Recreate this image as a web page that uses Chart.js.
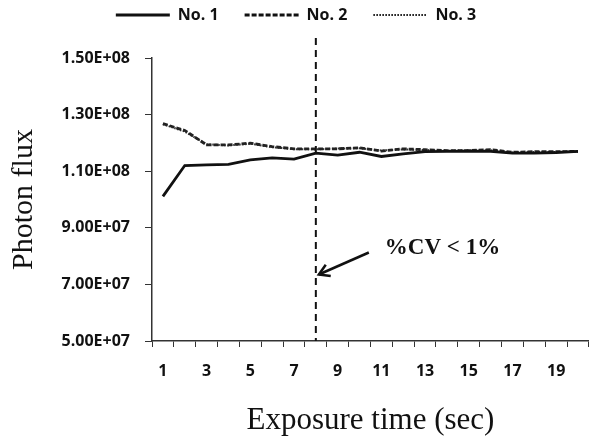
<!DOCTYPE html>
<html lang="en">

<head>
    <script src="https://cdn.jsdelivr.net/npm/chart.js@4.4.1/dist/chart.umd.min.js"></script>
    <style>
        body { margin: 0; background: #fff; }
        #wrap { width: 593px; height: 443px; }
    </style>
</head>

<body>
    <div id="wrap"><canvas id="fluxChart"></canvas></div>

    <script>
        // exposure time categories
        const times = ["1", "2", "3", "4", "5", "6", "7", "8", "9", "10",
            "11", "12", "13", "14", "15", "16", "17", "18", "19", "20"];

        const no1 = [1.011e8, 1.120e8, 1.122e8, 1.124e8, 1.140e8, 1.147e8, 1.143e8, 1.164e8, 1.157e8, 1.167e8,
            1.152e8, 1.161e8, 1.169e8, 1.170e8, 1.171e8, 1.170e8, 1.164e8, 1.164e8, 1.166e8, 1.170e8];
        const no2 = [1.268e8, 1.244e8, 1.193e8, 1.193e8, 1.199e8, 1.187e8, 1.179e8, 1.179e8, 1.179e8, 1.183e8,
            1.171e8, 1.179e8, 1.176e8, 1.173e8, 1.173e8, 1.176e8, 1.167e8, 1.169e8, 1.169e8, 1.170e8];
        const no3 = [1.266e8, 1.240e8, 1.195e8, 1.191e8, 1.197e8, 1.185e8, 1.178e8, 1.177e8, 1.180e8, 1.181e8,
            1.173e8, 1.177e8, 1.175e8, 1.172e8, 1.174e8, 1.174e8, 1.166e8, 1.168e8, 1.168e8, 1.169e8];

        const yTickLabels = ["5.00E+07", "7.00E+07", "9.00E+07", "1.10E+08", "1.30E+08", "1.50E+08"];
        const xTickLabels = ["1", "", "3", "", "5", "", "7", "", "9", "", "11", "", "13", "", "15", "", "17", "", "19", ""];

        const markedIndex = 7; // exposure 8 sec
        const noteText = "%CV < 1%";

        const boldSans = { family: "'Open Sans', Lato, sans-serif", size: 16, weight: "bold" };
        const serif = "'Liberation Serif', 'DejaVu Serif', serif";

        // dashed marker line, arrow and note
        const markerPlugin = {
            id: "marker",
            afterDatasetsDraw(chart) {
                const { ctx, scales: { x, y } } = chart;
                const px = x.getPixelForValue(markedIndex);
                ctx.save();
                ctx.strokeStyle = "#111";
                ctx.lineWidth = 2;
                ctx.setLineDash([7, 5]);
                ctx.beginPath();
                ctx.moveTo(px, 38);
                ctx.lineTo(px, y.bottom);
                ctx.stroke();

                // arrow
                ctx.setLineDash([]);
                ctx.lineWidth = 2.5;
                const tipX = px + 3, tipY = y.getPixelForValue(7.35e7);
                const tailX = px + 53, tailY = tipY - 22;
                ctx.beginPath();
                ctx.moveTo(tailX, tailY);
                ctx.lineTo(tipX, tipY);
                ctx.stroke();
                const ang = Math.atan2(tipY - tailY, tipX - tailX);
                ctx.beginPath();
                ctx.moveTo(tipX + Math.cos(ang + 2.6) * 12, tipY + Math.sin(ang + 2.6) * 12);
                ctx.lineTo(tipX, tipY);
                ctx.lineTo(tipX + Math.cos(ang - 2.6) * 12, tipY + Math.sin(ang - 2.6) * 12);
                ctx.stroke();

                ctx.fillStyle = "#111";
                ctx.font = "bold 23px " + serif;
                ctx.textBaseline = "middle";
                ctx.fillText(noteText, px + 69, tipY - 26);
                ctx.restore();
            }
        };

        // fixed legend height so the plot starts where the original does
        const legendSpace = {
            id: "legendSpace",
            beforeInit(chart) {
                const fit = chart.legend.fit;
                chart.legend.fit = function () {
                    fit.bind(chart.legend)();
                    this.height = 77;
                };
            }
        };

        new Chart(document.getElementById("fluxChart"), {
            type: "line",
            data: {
                labels: times,
                datasets: [
                    { label: "No. 1", data: no1, borderColor: "#111", borderWidth: 2.8, borderDash: [] },
                    { label: "No. 2", data: no2, borderColor: "#222", borderWidth: 2.8, borderDash: [5, 2] },
                    { label: "No. 3", data: no3, borderColor: "#333", borderWidth: 2, borderDash: [1.5, 1.5] }
                ]
            },
            options: {
                responsive: true,
                maintainAspectRatio: false,
                animation: false,
                layout: { padding: { left: 0, right: 1, top: -19, bottom: 0 } },
                elements: { point: { radius: 0 }, line: { tension: 0 } },
                plugins: {
                    tooltip: { enabled: false },
                    legend: {
                        position: "top",
                        labels: {
                            color: "#111",
                            font: { family: "'Open Sans', Lato, sans-serif", size: 16, weight: "bold" },
                            usePointStyle: true,
                            pointStyle: "line",
                            pointStyleWidth: 54,
                            boxWidth: 54,
                            padding: 26,
                            generateLabels(chart) {
                                const items = Chart.defaults.plugins.legend.labels.generateLabels(chart);
                                items.forEach(it => {
                                    const ds = chart.data.datasets[it.datasetIndex];
                                    it.lineDash = ds.borderDash;
                                    it.lineWidth = ds.borderWidth;
                                    it.strokeStyle = "#111";
                                });
                                return items;
                            }
                        }
                    }
                },
                scales: {
                    x: {
                        offset: true,
                        grid: { offset: true, drawOnChartArea: false, tickLength: 6, color: "#333" },
                        border: { color: "#333", width: 1.5 },
                        ticks: {
                            autoSkip: false, maxRotation: 0, padding: 15, color: "#111", font: boldSans,
                            callback: (v, i) => xTickLabels[i]
                        },
                        title: {
                            display: true, text: "Exposure time (sec)", color: "#111",
                            font: { family: serif, size: 31 }, padding: { top: 0, bottom: 4 }
                        },
                        afterFit(s) { s.height = 102; }
                    },
                    y: {
                        min: 5e7,
                        max: 1.5e8,
                        grid: { drawOnChartArea: false, tickLength: 7, color: "#333" },
                        border: { color: "#333", width: 1.5 },
                        ticks: {
                            stepSize: 2e7, padding: 15, color: "#111", font: boldSans,
                            callback: (v, i) => yTickLabels[i]
                        },
                        title: {
                            display: true, text: "Photon flux", color: "#111",
                            font: { family: serif, size: 30 }, padding: { top: 6, bottom: 0 }
                        },
                        afterFit(s) { s.width = 152; }
                    }
                }
            },
            plugins: [legendSpace, markerPlugin]
        });
    </script>
</body>

</html>
